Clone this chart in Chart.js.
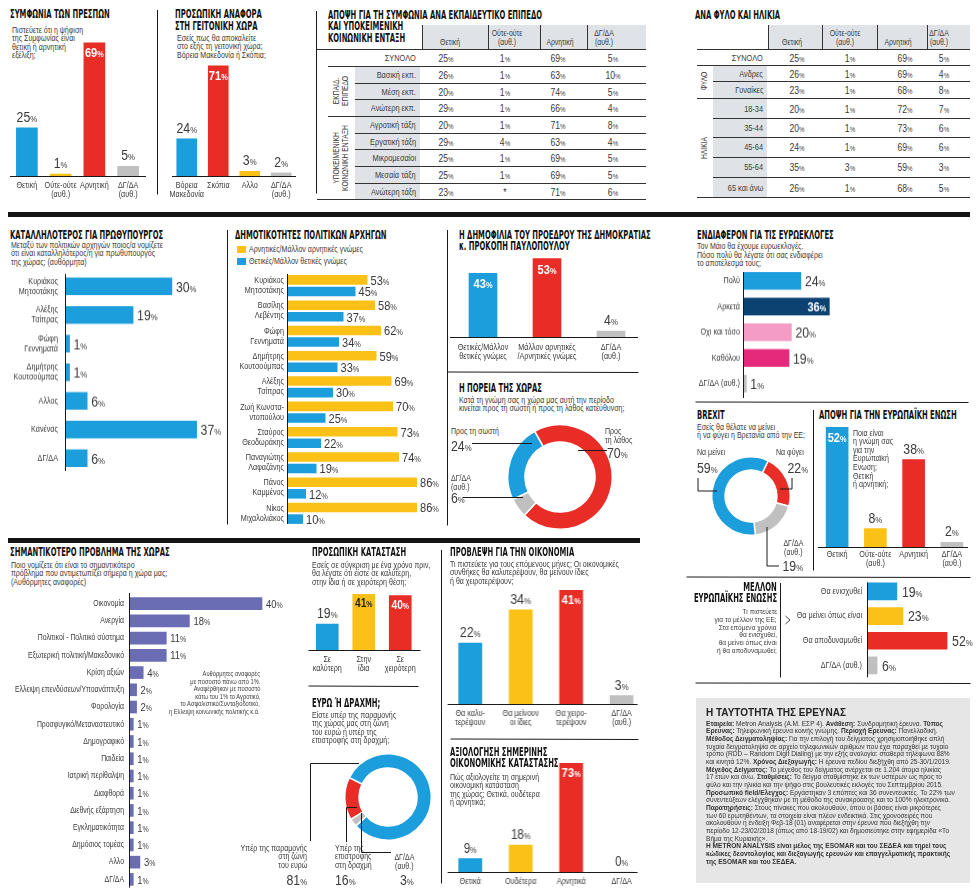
<!DOCTYPE html>
<html lang="el">
<head>
<meta charset="utf-8">
<title>Metron Analysis - Δημοσκόπηση</title>
<script src="https://cdn.jsdelivr.net/npm/chart.js@4.4.1/dist/chart.umd.min.js"></script>
<style>
html, body { margin: 0; padding: 0; background: #fff; }
#page {
    position: relative; width: 977px; height: 893px; overflow: hidden; background: #fff;
    font-family: "Liberation Sans", Arial, sans-serif; color: #3a3a3a; text-align: left;
}
.box { position: absolute; }
.t { position: absolute; white-space: nowrap; text-align: left; transform: scaleX(0.82); transform-origin: 0 0; }
.t.r { transform-origin: 100% 0; text-align: right; }
.ttl { font-family: "DejaVu Sans Condensed", "DejaVu Sans", sans-serif; font-weight: bold; font-size: 11.5px; line-height: 11.5px; color: #111; transform: scaleX(0.66); }
.sub { font-size: 8.6px; line-height: 8.6px; }
.small { font-size: 8px; line-height: 7.8px; }
.note { font-size: 7px; line-height: 7.6px; }
.big { font-size: 15px; line-height: 15px; color: #3a3a3a; }
.big small { font-size: 9.5px; }
.cell { position: absolute; font-size: 10.5px; text-align: center; transform: translate(-50%, -50%) scaleX(0.82); white-space: nowrap; }
.cell small { font-size: 7.5px; }
.hdr { position: absolute; font-size: 8.4px; line-height: 9px; text-align: center; transform: translateX(-50%) scaleX(0.82); white-space: nowrap; }
.rowlab { position: absolute; font-size: 9px; text-align: right; transform: translateY(-50%) scaleX(0.82); transform-origin: 100% 50%; white-space: nowrap; }
.grp { position: absolute; font-size: 8.2px; line-height: 8.6px; text-align: center; white-space: nowrap; transform: translate(-50%, -50%) rotate(-90deg) scaleX(0.82); }
.fill { position: absolute; }
#survey { position: absolute; left: 696px; top: 698px; width: 274px; height: 185px; background: #e6e6e6; }
#survey .head { position: absolute; left: 10px; top: 8.5px; font-weight: bold; font-size: 10px; color: #222; white-space: nowrap; }
#survey .body { position: absolute; left: 10px; top: 21.5px; font-size: 7.3px; line-height: 7.67px; color: #333; white-space: nowrap; transform: scaleX(0.9); transform-origin: 0 0; }
#lines { position: absolute; left: 0; top: 0; pointer-events: none; }
</style>
</head>
<body>
<div id="page"></div>
<script>
// ---- colours
const BLUE = '#1c9ddc';
const RED = '#e82d26';
const YELLOW = '#fcc117';
const GRAY = '#c0c0c0';
const PURPLE = '#6a6db4';
const NAVY = '#0b4271';
const PINK = '#f49cc5';
const MAGENTA = '#e5297b';
const TEXT = '#3a3a3a';
const FONT = '"Liberation Sans", Arial, sans-serif';
const SX = 0.82; // narrow look for the body font

// ---- data
// Συμφωνία των Πρεσπών
const prespesLabels = [['Θετική'], ['Ούτε-ούτε', '(αυθ.)'], ['Αρνητική'], ['ΔΓ/ΔΑ', '(αυθ.)']];
const prespesValues = [25, 1, 69, 5];

// Αναφορά στη γειτονική χώρα
const nameLabels = [['Βόρεια', 'Μακεδονία'], ['Σκόπια'], ['Αλλο'], ['ΔΓ/ΔΑ', '(αυθ.)']];
const nameValues = [24, 71, 3, 2];

// Πίνακες
const tableCols = ['\nΘετική', 'Ούτε-ούτε\n(αυθ.)', '\nΑρνητική', 'ΔΓ/ΔΑ\n(αυθ.)'];
const eduRows = ['ΣΥΝΟΛΟ', 'Βασική εκπ.', 'Μέση εκπ.', 'Ανώτερη εκπ.', 'Αγροτική τάξη', 'Εργατική τάξη', 'Μικρομεσαίοι', 'Μεσαία τάξη', 'Ανώτερη τάξη'];
const eduPositive = [25, 26, 20, 29, 20, 29, 25, 25, 23];
const eduNeutral = [1, 1, 1, 1, 1, 4, 1, 1, null];
const eduNegative = [69, 63, 74, 66, 71, 63, 69, 69, 71];
const eduDkna = [5, 10, 5, 4, 8, 4, 5, 5, 6];
const sexAgeRows = ['ΣΥΝΟΛΟ', 'Ανδρες', 'Γυναίκες', '18-34', '35-44', '45-64', '55-64', '65 και άνω'];
const sexAgePositive = [25, 26, 23, 20, 20, 24, 35, 26];
const sexAgeNeutral = [1, 1, 1, 1, 1, 1, 3, 1];
const sexAgeNegative = [69, 69, 68, 72, 73, 69, 59, 68];
const sexAgeDkna = [5, 4, 8, 7, 6, 6, 3, 5];

// Καταλληλότερος για πρωθυπουργός
const pmLabels = [['Κυριάκος', 'Μητσοτάκης'], ['Αλέξης', 'Τσίπρας'], ['Φώφη', 'Γεννηματά'], ['Δημήτρης', 'Κουτσούμπας'], ['Αλλος'], ['Κανένας'], ['ΔΓ/ΔΑ']];
const pmValues = [30, 19, 1, 1, 6, 37, 6];

// Δημοτικότητες πολιτικών αρχηγών
const leaderLabels = [['Κυριάκος', 'Μητσοτάκης'], ['Βασίλης', 'Λεβέντης'], ['Φώφη', 'Γεννηματά'], ['Δημήτρης', 'Κουτσούμπας'], ['Αλέξης', 'Τσίπρας'], ['Ζωή Κωνστα-', 'ντοπούλου'], ['Σταύρος', 'Θεοδωράκης'], ['Παναγιώτης', 'Λαφαζάνης'], ['Πάνος', 'Καμμένος'], ['Νίκος', 'Μιχαλολιάκος']];
const leaderNegative = [53, 58, 62, 59, 69, 70, 73, 74, 86, 86];
const leaderPositive = [45, 37, 34, 33, 30, 25, 22, 19, 12, 10];
const leaderLegend = ['Αρνητικές/Μάλλον αρνητικές γνώμες', 'Θετικές/Μάλλον θετικές γνώμες'];

// Δημοφιλία του Προέδρου
const presLabels = [['Θετικές/Μάλλον', 'θετικές γνώμες'], ['Μάλλον αρνητικές', '/Αρνητικές γνώμες'], ['ΔΓ/ΔΑ', '(αυθ.)']];
const presValues = [43, 53, 4];

// Πορεία της χώρας: λάθος, ΔΓ/ΔΑ, σωστή
const courseValues = [70, 6, 24];

// Ενδιαφέρον για τις ευρωεκλογές
const euroElLabels = ['Πολύ', 'Αρκετά', 'Οχι και τόσο', 'Καθόλου', 'ΔΓ/ΔΑ (αυθ.)'];
const euroElValues = [24, 36, 20, 19, 1];

// Brexit: να φύγει, ΔΓ/ΔΑ, να μείνει
const brexitValues = [22, 19, 59];

// Άποψη για την ΕΕ
const euLabels = [['Θετική'], ['Ούτε-ούτε', '(αυθ.)'], ['Αρνητική'], ['ΔΓ/ΔΑ', '(αυθ.)']];
const euValues = [52, 8, 38, 2];

// Σημαντικότερο πρόβλημα
const problemLabels = ['Οικονομία', 'Ανεργία', 'Πολιτικοί - Πολιτικό σύστημα', 'Εξωτερική πολιτική/Μακεδονικό', 'Κρίση αξιών', 'Ελλειψη επενδύσεων/Υποανάπτυξη', 'Φορολογία', 'Προσφυγικό/Μεταναστευτικό', 'Δημογραφικό', 'Παιδεία', 'Ιατρική περίθαλψη', 'Διαφθορά', 'Διεθνής εξάρτηση', 'Εγκληματικότητα', 'Δημόσιος τομέας', 'Αλλο', 'ΔΓ/ΔΑ'];
const problemValues = [40, 18, 11, 11, 4, 2, 2, 1, 1, 1, 1, 1, 1, 1, 1, 3, 1];

// Προσωπική κατάσταση
const personalLabels = [['Σε', 'καλύτερη'], ['Στην', 'ίδια'], ['Σε', 'χειρότερη']];
const personalValues = [19, 41, 40];

// Ευρώ ή δραχμή: δραχμή, ευρώ, ΔΓ/ΔΑ
const euroValues = [16, 81, 3];

// Πρόβλεψη για την οικονομία
const forecastLabels = [['Θα καλυ-', 'τερέψουν'], ['Θα μείνουν', 'οι ίδιες'], ['Θα χειρο-', 'τερέψουν'], ['ΔΓ/ΔΑ', '(αυθ.)']];
const forecastValues = [22, 34, 41, 3];

// Αξιολόγηση σημερινής οικονομικής κατάστασης
const ratingLabels = ['Θετικά', 'Ουδέτερα', 'Αρνητικά', 'ΔΓ/ΔΑ'];
const ratingValues = [9, 18, 73, 0];

// Μέλλον ΕΕ
const futureLabels = ['Θα ενισχυθεί', 'Θα μείνει όπως είναι', 'Θα αποδυναμωθεί', 'ΔΓ/ΔΑ (αυθ.)'];
const futureValues = [19, 23, 52, 6];

Chart.defaults.animation = false;
const page = document.getElementById('page');

// ---- helpers
function pct(v) {
    return v + '<small>%</small>';
}

const LINE_H = { ttl: 11.5, sub: 8.6, small: 7.8, note: 7.6, big: 15 };

// one div per line, so every line keeps the same left (or right) edge
function T(x, y, text, cls, align) {
    text.split('\n').forEach((line, k) => {
        const d = document.createElement('div');
        d.className = 't ' + cls + (align === 'right' ? ' r' : '');
        d.innerHTML = line;
        d.style.top = (y + k * LINE_H[cls]) + 'px';
        if (align === 'right') d.style.right = (977 - x) + 'px';
        else d.style.left = x + 'px';
        page.appendChild(d);
    });
}

function rect(x, y, w, h, color) {
    const d = document.createElement('div');
    d.className = 'fill';
    d.style.cssText = `left:${x}px;top:${y}px;width:${w}px;height:${h}px;background:${color}`;
    page.appendChild(d);
}

function addBox(x, y, w, h) {
    const box = document.createElement('div');
    box.className = 'box';
    box.style.cssText = `left:${x}px;top:${y}px;width:${w}px;height:${h}px`;
    const cv = document.createElement('canvas');
    box.appendChild(cv);
    page.appendChild(box);
    return cv;
}

// text squeezed horizontally around its anchor
function fillN(ctx, s, x, y) {
    ctx.save();
    ctx.translate(x, y);
    ctx.scale(SX, 1);
    ctx.fillText(s, 0, 0);
    ctx.restore();
}

function drawPct(ctx, v, x, y, align, f1, f2, color) {
    const s = String(v);
    ctx.font = f1;
    const w1 = ctx.measureText(s).width * SX;
    ctx.font = f2;
    const w2 = ctx.measureText('%').width * SX;
    let x0 = x;
    if (align === 'center') x0 = x - (w1 + w2) / 2;
    if (align === 'right') x0 = x - w1 - w2;
    ctx.textAlign = 'left';
    ctx.textBaseline = 'alphabetic';
    ctx.fillStyle = color;
    ctx.font = f1;
    fillN(ctx, s, x0, y);
    ctx.font = f2;
    fillN(ctx, '%', x0 + w1, y);
}

// axis line, category labels and value labels
const marks = {
    id: 'marks',
    afterDatasetsDraw(chart, args, m) {
        const ctx = chart.ctx;
        const a = chart.chartArea;
        const horiz = chart.options.indexAxis === 'y';
        ctx.save();
        ctx.strokeStyle = '#1a1a1a';
        ctx.lineWidth = 1;
        ctx.beginPath();
        if (horiz) {
            const x = Math.round(a.left) - 0.5;
            ctx.moveTo(x, m.axis ? m.axis[0] - m.boxTop : a.top);
            ctx.lineTo(x, m.axis ? m.axis[1] - m.boxTop : a.bottom);
        } else {
            const y = Math.round(a.bottom) + 0.5;
            ctx.moveTo(m.axis ? m.axis[0] - m.boxLeft : a.left, y);
            ctx.lineTo(m.axis ? m.axis[1] - m.boxLeft : a.right, y);
        }
        ctx.stroke();

        ctx.fillStyle = TEXT;
        ctx.font = m.catSize + 'px ' + FONT;
        chart.data.labels.forEach((lab, i) => {
            const lines = [].concat(lab);
            if (horiz) {
                const yc = chart.scales.y.getPixelForValue(i);
                ctx.textAlign = 'right';
                ctx.textBaseline = 'middle';
                lines.forEach((s, k) => fillN(ctx, s, a.left - m.catGap, yc + (k - (lines.length - 1) / 2) * m.catLH));
            } else {
                const xc = chart.scales.x.getPixelForValue(i);
                ctx.textAlign = 'center';
                ctx.textBaseline = 'top';
                lines.forEach((s, k) => fillN(ctx, s, xc, a.bottom + m.catGap + k * m.catLH));
            }
        });

        const f1 = m.big + 'px ' + FONT, f2 = m.small + 'px ' + FONT;
        const b1 = 'bold ' + m.inBig + 'px ' + FONT, b2 = 'bold ' + m.inSmall + 'px ' + FONT;
        chart.data.datasets.forEach((ds, d) => {
            chart.getDatasetMeta(d).data.forEach((bar, i) => {
                const v = ds.data[i];
                const ins = d === 0 && m.inside ? m.inside[i] : null;
                if (horiz) {
                    if (ins) drawPct(ctx, v, bar.x - 3, bar.y + m.inBig * 0.36, 'right', b1, b2, ins);
                    else drawPct(ctx, v, bar.x + m.valGap, bar.y + m.big * 0.36, 'left', f1, f2, TEXT);
                } else {
                    if (ins) drawPct(ctx, v, bar.x, bar.y + m.inTop, 'center', b1, b2, ins);
                    else drawPct(ctx, v, bar.x, bar.y - m.valGap, 'center', f1, f2, TEXT);
                }
            });
        });
        ctx.restore();
    }
};

function bars(o) {
    const p = Object.assign({ l: 4, r: 4, t: 4, b: 4 }, o.pad);
    const left = o.x - p.l, top = o.y - p.t;
    const cv = addBox(left, top, o.w + p.l + p.r, o.h + p.t + p.b);
    const horiz = !!o.horizontal;
    const datasets = o.series.map(s => ({
        data: s.values,
        backgroundColor: s.colors,
        borderWidth: 0,
        barThickness: o.thickness,
        categoryPercentage: o.catPct || 0.8,
        barPercentage: o.barPct || 0.9
    }));
    const valueAxis = { display: false, min: 0, max: o.max };
    const catAxis = { display: false, offset: true };
    const m = Object.assign({
        catSize: 8.8, catGap: 4, catLH: 9.5, big: 15, small: 9.5, inBig: 13.5, inSmall: 9,
        inTop: 14, valGap: 5, boxLeft: left, boxTop: top
    }, o.marks);
    return new Chart(cv, {
        type: 'bar',
        data: { labels: o.labels, datasets },
        options: {
            indexAxis: horiz ? 'y' : 'x',
            responsive: true,
            maintainAspectRatio: false,
            animation: false,
            layout: { padding: { left: p.l, right: p.r, top: p.t, bottom: p.b } },
            scales: horiz ? { x: valueAxis, y: catAxis } : { x: catAxis, y: valueAxis },
            plugins: { legend: { display: false }, tooltip: { enabled: false }, marks: m }
        },
        plugins: [marks]
    });
}

function donut(o) {
    const s = o.r * 2 + 2;
    const cv = addBox(o.cx - s / 2, o.cy - s / 2, s, s);
    return new Chart(cv, {
        type: 'doughnut',
        data: { datasets: [{ data: o.values, backgroundColor: o.colors, borderColor: '#fff', borderWidth: 1.5 }] },
        options: {
            responsive: true,
            maintainAspectRatio: false,
            animation: false,
            cutout: o.cutout,
            rotation: o.rotation,
            layout: { padding: 0 },
            plugins: { legend: { display: false }, tooltip: { enabled: false } }
        }
    });
}

function table(o) {
    // header
    o.cols.forEach((c, i) => {
        const x0 = o.edges[i], x1 = o.edges[i + 1];
        rect(x0, o.hdrTop, x1 - x0, o.rows[0] - o.hdrTop, '#dfe3e8');
        rect(x0, o.hdrTop, 1, o.rows[0] - o.hdrTop, '#333');
        const h = document.createElement('div');
        h.className = 'hdr';
        h.innerHTML = c.split('\n').join('<br>');
        h.style.left = o.hdrCenters[i] + 'px';
        h.style.top = (o.hdrTop + 4) + 'px';
        page.appendChild(h);
    });
    const right = o.edges[o.edges.length - 1];
    // label cells
    for (let r = 1; r < o.labels.length; r++) {
        rect(o.labL, o.rows[r], o.labR - o.labL, o.rows[r + 1] - o.rows[r], '#dfe3e8');
    }
    // row lines
    o.rows.forEach((y, r) => {
        let x0 = o.labL;
        if (r === 0 || r === o.rows.length - 1) x0 = o.lineStart;
        else if (o.groups.some(g => g.from === r)) x0 = o.x0;
        rect(x0, Math.round(y), right - x0, 1, '#333');
    });
    // groups
    o.groups.forEach(g => {
        const d = document.createElement('div');
        d.className = 'grp';
        d.innerHTML = g.name.split('\n').join('<br>');
        d.style.left = ((o.x0 + o.labL) / 2) + 'px';
        d.style.top = ((o.rows[g.from] + o.rows[g.to + 1]) / 2) + 'px';
        page.appendChild(d);
    });
    // row labels and cells
    o.labels.forEach((lab, r) => {
        const yc = (o.rows[r] + o.rows[r + 1]) / 2 + 0.5;
        const l = document.createElement('div');
        l.className = 'rowlab';
        l.textContent = lab;
        l.style.right = (977 - o.labR + 4) + 'px';
        l.style.top = yc + 'px';
        page.appendChild(l);
        o.data.forEach((col, c) => {
            const d = document.createElement('div');
            d.className = 'cell';
            d.innerHTML = col[r] === null ? '*' : pct(col[r]);
            d.style.left = o.centers[c] + 'px';
            d.style.top = yc + 'px';
            page.appendChild(d);
        });
    });
}

// ---- black bands
rect(8, 212, 962, 5, '#141414');
rect(8, 538, 632, 5, '#141414');

// ---- row 1
T(10, 9, 'ΣΥΜΦΩΝΙΑ ΤΩΝ ΠΡΕΣΠΩΝ', 'ttl');
T(12, 25.5, 'Πιστεύετε ότι η ψήφιση\nτης Συμφωνίας είναι\nθετική ή αρνητική\nεξέλιξη;', 'sub');
bars({
    x: 10, y: 40, w: 135, h: 136, max: 136 / 1.93, thickness: 21, pad: { l: 6, r: 6, t: 30, b: 28 },
    labels: prespesLabels, series: [{ values: prespesValues, colors: [BLUE, YELLOW, RED, GRAY] }],
    marks: { inside: { 2: '#fff' }, catGap: 5, catLH: 9.5, valGap: 6, axis: [10, 146] }
});

T(175, 9, 'ΠΡΟΣΩΠΙΚΗ ΑΝΑΦΟΡΑ\nΣΤΗ ΓΕΙΤΟΝΙΚΗ ΧΩΡΑ', 'ttl');
T(177, 33.5, 'Εσείς πως θα αποκαλείτε\nστο εξής τη γειτονική χώρα;\nΒόρεια Μακεδονία ή Σκόπια;', 'sub');
bars({
    x: 171, y: 40, w: 126, h: 136, max: 136 / 1.55, thickness: 20, pad: { l: 8, r: 8, t: 30, b: 28 },
    labels: nameLabels, series: [{ values: nameValues, colors: [BLUE, RED, YELLOW, GRAY] }],
    marks: { inside: { 1: '#fff' }, catGap: 5, catLH: 9.5, valGap: 6, axis: [172, 296] }
});

T(328, 9.5, 'ΑΠΟΨΗ ΓΙΑ ΤΗ ΣΥΜΦΩΝΙΑ ΑΝΑ ΕΚΠΑΙΔΕΥΤΙΚΟ ΕΠΙΠΕΔΟ\nΚΑΙ ΥΠΟΚΕΙΜΕΝΙΚΗ\nΚΟΙΝΩΝΙΚΗ ΕΝΤΑΞΗ', 'ttl');
table({
    x0: 328, lineStart: 317, labL: 355, labR: 420, hdrTop: 25,
    edges: [422, 488, 540, 587, 646], centers: [446, 505, 558, 613], hdrCenters: [450, 507, 560, 604],
    rows: [49.3, 66, 82.7, 99.3, 116, 132.7, 149.3, 166, 182.7, 199.3],
    cols: tableCols, labels: eduRows, data: [eduPositive, eduNeutral, eduNegative, eduDkna],
    groups: [{ name: 'ΕΚΠΑΙΔ.\nΕΠΙΠΕΔΟ', from: 1, to: 3 }, { name: 'ΥΠΟΚΕΙΜΕΝΙΚΗ\nΚΟΙΝΩΝΙΚΗ ΕΝΤΑΞΗ', from: 4, to: 8 }]
});

T(695, 9.5, 'ΑΝΑ ΦΥΛΟ ΚΑΙ ΗΛΙΚΙΑ', 'ttl');
table({
    x0: 697, lineStart: 697, labL: 713, labR: 767, hdrTop: 25,
    edges: [768, 822, 877, 927, 970], centers: [797, 850, 905, 944], hdrCenters: [792, 845, 898, 939],
    rows: [49.3, 65, 81, 97.7, 118.3, 136.7, 156.7, 176.7, 197.3],
    cols: tableCols, labels: sexAgeRows, data: [sexAgePositive, sexAgeNeutral, sexAgeNegative, sexAgeDkna],
    groups: [{ name: 'ΦΥΛΟ', from: 1, to: 2 }, { name: 'ΗΛΙΚΙΑ', from: 3, to: 7 }]
});

// ---- row 2
T(10, 229.5, 'ΚΑΤΑΛΛΗΛΟΤΕΡΟΣ ΓΙΑ ΠΡΩΘΥΠΟΥΡΓΟΣ', 'ttl');
T(11, 240.8, 'Μεταξύ των πολιτικών αρχηγών ποιος/α νομίζετε\nότι είναι καταλληλότερος/η για πρωθυπουργός\nτης χώρας; (αυθόρμητα)', 'sub');
bars({
    horizontal: true, x: 66, y: 272, w: 160, h: 199.5, max: 160 / 3.53, thickness: 17,
    pad: { l: 64, r: 4, t: 2, b: 2 },
    labels: pmLabels, series: [{ values: pmValues, colors: BLUE }],
    marks: { catGap: 8, catLH: 10, valGap: 4, axis: [274, 470] }
});

T(235, 229.5, 'ΔΗΜΟΤΙΚΟΤΗΤΕΣ ΠΟΛΙΤΙΚΩΝ ΑΡΧΗΓΩΝ', 'ttl');
rect(237, 246, 9, 7, YELLOW);
T(249, 245, leaderLegend[0], 'sub');
rect(237, 258, 9, 7, BLUE);
T(249, 257, leaderLegend[1], 'sub');
bars({
    horizontal: true, x: 288, y: 273, w: 145, h: 253, max: 145 / 1.5, catPct: 0.91, barPct: 0.83,
    pad: { l: 62, r: 10, t: 2, b: 2 },
    labels: leaderLabels,
    series: [{ values: leaderNegative, colors: YELLOW }, { values: leaderPositive, colors: BLUE }],
    marks: { catGap: 4, catLH: 10, big: 13.5, small: 9, valGap: 3, axis: [274, 524] }
});

T(459, 229.5, 'Η ΔΗΜΟΦΙΛΙΑ ΤΟΥ ΠΡΟΕΔΡΟΥ ΤΗΣ ΔΗΜΟΚΡΑΤΙΑΣ\nκ. ΠΡΟΚΟΠΗ ΠΑΥΛΟΠΟΥΛΟΥ', 'ttl');
bars({
    x: 451, y: 252, w: 192, h: 85, max: 85 / 1.48, thickness: 28, pad: { l: 4, r: 4, t: 4, b: 28 },
    labels: presLabels, series: [{ values: presValues, colors: [BLUE, RED, GRAY] }],
    marks: { inside: { 0: '#fff', 1: '#fff' }, inTop: 15, catGap: 6, catLH: 9.5, valGap: 6, axis: [450, 638] }
});

T(459, 382.5, 'Η ΠΟΡΕΙΑ ΤΗΣ ΧΩΡΑΣ', 'ttl');
T(459, 395.5, 'Κατά τη γνώμη σας η χώρα μας αυτή την περίοδο\nκινείται προς τη σωστή ή προς τη λάθος κατεύθυνση;', 'sub');
donut({ cx: 560, cy: 477, r: 52, cutout: '67%', rotation: -29, values: courseValues, colors: [RED, GRAY, BLUE] });
T(451, 427, 'Προς τη σωστή', 'sub');
T(451, 437.5, pct(courseValues[2]), 'big');
T(605, 427, 'Προς\nτη λάθος', 'sub');
T(607, 444.5, pct(courseValues[0]), 'big');
T(451, 474, 'ΔΓ/ΔΑ\n(αυθ.)', 'sub');
T(451, 490, pct(courseValues[1]), 'big');

T(697, 229.5, 'ΕΝΔΙΑΦΕΡΟΝ ΓΙΑ ΤΙΣ ΕΥΡΩΕΚΛΟΓΕΣ', 'ttl');
T(697, 242, 'Τον Μάιο θα έχουμε ευρωεκλογές.\nΠόσο πολύ θα λέγατε ότι σας ενδιαφέρει\nτο αποτέλεσμά τους;', 'sub');
bars({
    horizontal: true, x: 744, y: 268, w: 110, h: 127.5, max: 110 / 2.37, thickness: 17,
    pad: { l: 54, r: 30, t: 2, b: 2 },
    labels: euroElLabels, series: [{ values: euroElValues, colors: [BLUE, NAVY, PINK, MAGENTA, GRAY] }],
    marks: { inside: { 1: '#fff' }, catGap: 4, valGap: 4, axis: [272, 397] }
});

T(697, 409.5, 'BREXIT', 'ttl');
T(697, 422.5, 'Εσείς θα θέλατε να μείνει\nή να φύγει η Βρετανία από την ΕΕ;', 'sub');
donut({ cx: 751, cy: 496, r: 39, cutout: '66%', rotation: 26, values: brexitValues, colors: [RED, GRAY, BLUE] });
T(697, 448, 'Να μείνει', 'sub');
T(697, 459.5, pct(brexitValues[2]), 'big');
T(776, 448, 'Να φύγει', 'sub');
T(808, 459.5, pct(brexitValues[0]), 'big', 'right');
T(803, 539, 'ΔΓ/ΔΑ\n(αυθ.)', 'sub', 'right');
T(803, 557.5, pct(brexitValues[1]), 'big', 'right');

T(819, 409.5, 'ΑΠΟΨΗ ΓΙΑ ΤΗΝ ΕΥΡΩΠΑΪΚΗ ΕΝΩΣΗ', 'ttl');
bars({
    x: 818, y: 425, w: 153, h: 122, max: 122 / 2.3, thickness: 22, pad: { l: 4, r: 4, t: 4, b: 24 },
    labels: euLabels, series: [{ values: euValues, colors: [BLUE, YELLOW, RED, GRAY] }],
    marks: { inside: { 0: '#fff' }, inTop: 15, catGap: 3, catLH: 9.5, valGap: 6, axis: [818, 968] }
});
T(853, 428.5, 'Ποια είναι\nη γνώμη σας\nγια την\nΕυρωπαϊκή\nΕνωση;\nΘετική\nή αρνητική;', 'sub');

// ---- row 3
T(10, 547, 'ΣΗΜΑΝΤΙΚΟΤΕΡΟ ΠΡΟΒΛΗΜΑ ΤΗΣ ΧΩΡΑΣ', 'ttl');
T(11, 560.5, 'Ποιο νομίζετε ότι είναι το σημαντικότερο\nπρόβλημα που αντιμετωπίζει σήμερα η χώρα μας;\n(Αυθόρμητες αναφορές)', 'sub');
bars({
    horizontal: true, x: 130, y: 595.4, w: 150, h: 293, max: 150 / 3.3, thickness: 12,
    pad: { l: 125, r: 10, t: 2, b: 2 },
    labels: problemLabels, series: [{ values: problemValues, colors: PURPLE }],
    marks: { catSize: 8.4, catGap: 6, big: 11.5, small: 8.5, valGap: 4, axis: [590, 888] }
});
T(260, 670, 'Αυθόρμητες αναφορές\nμε ποσοστό πάνω από 1%.\nΑναφέρθηκαν με ποσοστό\nκάτω του 1% το Αγροτικό,\nτο Ασφαλιστικό/Συνταξιοδοτικό,\nη Ελλειψη κοινωνικής πολιτικής κ.ά.', 'note', 'right');

T(312, 547, 'ΠΡΟΣΩΠΙΚΗ ΚΑΤΑΣΤΑΣΗ', 'ttl');
T(312, 560.5, 'Εσείς σε σύγκριση με ένα χρόνο πριν,\nθα λέγατε ότι είστε σε καλύτερη,\nστην ίδια ή σε χειρότερη θέση;', 'sub');
bars({
    x: 308.5, y: 590, w: 109.5, h: 60, max: 60 / 1.36, thickness: 22, pad: { l: 4, r: 4, t: 22, b: 26 },
    labels: personalLabels, series: [{ values: personalValues, colors: [BLUE, YELLOW, RED] }],
    marks: { inside: { 1: '#222', 2: '#fff' }, inBig: 12.5, inSmall: 8.5, inTop: 13, catGap: 5, catLH: 9, valGap: 6, axis: [308, 420] }
});

T(312, 697.5, 'ΕΥΡΩ Ή ΔΡΑΧΜΗ;', 'ttl');
T(312, 710.5, 'Είστε υπέρ της παραμονής\nτης χώρας μας στη ζώνη\nτου ευρώ ή υπέρ της\nεπιστροφής στη δραχμή;', 'sub');
donut({ cx: 388, cy: 797, r: 43, cutout: '67%', rotation: 239, values: euroValues, colors: [RED, BLUE, GRAY] });
T(307, 843.5, 'Υπέρ της παραμονής\nστη ζώνη\nτου ευρώ', 'sub', 'right');
T(307, 871.5, pct(euroValues[1]), 'big', 'right');
T(335, 843.5, 'Υπέρ της\nεπιστροφής\nστη δραχμή', 'sub');
T(335, 871.5, pct(euroValues[0]), 'big');
T(414, 853, 'ΔΓ/ΔΑ\n(αυθ.)', 'sub', 'right');
T(414, 871.5, pct(euroValues[2]), 'big', 'right');

T(450, 547, 'ΠΡΟΒΛΕΨΗ ΓΙΑ ΤΗΝ ΟΙΚΟΝΟΜΙΑ', 'ttl');
T(450, 559.5, 'Τι πιστεύετε για τους επόμενους μήνες; Οι οικονομικές\nσυνθήκες θα καλυτερέψουν, θα μείνουν ίδιες\nή θα χειροτερέψουν;', 'sub');
bars({
    x: 445.4, y: 586, w: 200.8, h: 118, max: 118 / 2.77, thickness: 23, pad: { l: 4, r: 4, t: 4, b: 28 },
    labels: forecastLabels, series: [{ values: forecastValues, colors: [BLUE, YELLOW, RED, GRAY] }],
    marks: { inside: { 2: '#fff' }, catGap: 5, catLH: 9.5, valGap: 6, axis: [448, 637] }
});

T(450, 746.5, 'ΑΞΙΟΛΟΓΗΣΗ ΣΗΜΕΡΙΝΗΣ\nΟΙΚΟΝΟΜΙΚΗΣ ΚΑΤΑΣΤΑΣΗΣ', 'ttl');
T(450, 772.5, 'Πώς αξιολογείτε τη σημερινή\nοικονομική κατάσταση\nτης χώρας; Θετικά, ουδέτερα\nή αρνητικά;', 'sub');
bars({
    x: 445.4, y: 755, w: 200.8, h: 117, max: 117 / 1.49, thickness: 23, pad: { l: 4, r: 4, t: 4, b: 18 },
    labels: ratingLabels, series: [{ values: ratingValues, colors: [BLUE, YELLOW, RED, GRAY] }],
    marks: { inside: { 2: '#fff' }, catGap: 5, catLH: 9.5, big: 14, small: 9, valGap: 6, axis: [448, 637] }
});

T(777, 581.5, 'ΜΕΛΛΟΝ\nΕΥΡΩΠΑΪΚΗΣ ΕΝΩΣΗΣ', 'ttl', 'right');
T(777, 608, 'Τι πιστεύετε\nγια το μέλλον της ΕΕ;\nΣτα επόμενα χρόνια\nθα ενισχυθεί,\nθα μείνει όπως είναι\nή θα αποδυναμωθεί;', 'small', 'right');
bars({
    horizontal: true, x: 868, y: 578.6, w: 100, h: 98.8, max: 100 / 1.52, thickness: 17,
    pad: { l: 80, r: 8, t: 2, b: 2 },
    labels: futureLabels, series: [{ values: futureValues, colors: [BLUE, YELLOW, RED, GRAY] }],
    marks: { catGap: 6, valGap: 5, axis: [582, 677] }
});

// ---- survey identity box
const survey = document.createElement('div');
survey.id = 'survey';
survey.innerHTML = '<div class="head">Η ΤΑΥΤΟΤΗΤΑ ΤΗΣ ΕΡΕΥΝΑΣ</div><div class="body">' + [
    '<b>Εταιρεία:</b> Metron Analysis (Α.Μ. ΕΣΡ 4). <b>Ανάθεση:</b> Συνδρομητική έρευνα. <b>Τύπος</b>',
    '<b>Ερευνας:</b> Τηλεφωνική έρευνα κοινής γνώμης. <b>Περιοχή Ερευνας:</b> Πανελλαδική.',
    '<b>Μέθοδος Δειγματοληψίας:</b> Για την επιλογή του δείγματος χρησιμοποιήθηκε απλή',
    'τυχαία δειγματοληψία σε αρχείο τηλεφωνικών αριθμών που έχει παραχθεί με τυχαίο',
    'τρόπο (RDD – Random Digit Dialing) με την εξής αναλογία: σταθερά τηλέφωνα 88%',
    'και κινητά 12%. <b>Χρόνος Διεξαγωγής:</b> Η έρευνα πεδίου διεξήχθη από 25-30/1/2019.',
    '<b>Μέγεθος Δείγματος:</b> Το μέγεθος του δείγματος ανέρχεται σε 1.204 άτομα ηλικίας',
    '17 ετών και άνω. <b>Σταθμίσεις:</b> Το δείγμα σταθμίστηκε εκ των υστέρων ως προς το',
    'φύλο και την ηλικία και την ψήφο στις βουλευτικές εκλογές του Σεπτεμβρίου 2015.',
    '<b>Προσωπικό field/Ελεγχος:</b> Εργάστηκαν 3 επόπτες και 36 συνεντευκτές. Το 22% των',
    'συνεντεύξεων ελέγχθηκαν με τη μέθοδο της συνακρόασης και το 100% ηλεκτρονικά.',
    '<b>Παρατηρήσεις:</b> Στους πίνακες που ακολουθούν, όπου οι βάσεις είναι μικρότερες',
    'των 60 ερωτηθέντων, τα στοιχεία είναι πλέον ενδεικτικά. Στις χρονοσειρές που',
    'ακολουθούν η ένδειξη Φεβ-18 (01) αναφέρεται στην έρευνα που διεξήχθη την',
    'περίοδο 12-23/02/2018 (όπως από 18-19/02) και δημοσιεύτηκε στην εφημερίδα «Το',
    'Βήμα της Κυριακής».',
    '<b>Η METRON ANALYSIS είναι μέλος της ESOMAR και του ΣΕΔΕΑ και τηρεί τους</b>',
    '<b>κώδικες δεοντολογίας και διεξαγωγής ερευνών και επαγγελματικής πρακτικής</b>',
    '<b>της ESOMAR και του ΣΕΔΕΑ.</b>'
].join('<br>') + '</div>';
page.appendChild(survey);

// ---- divider rules and leader lines
const rules = [
    [157, 10, 157, 194], [316, 11, 316, 193],
    [227, 230, 227, 524], [447, 230, 447, 525], [447, 372, 638, 372],
    [695, 402, 968, 402], [813, 410, 813, 570],
    [441, 550, 441, 883], [308, 686, 418, 686], [450, 739, 638, 739],
    [686, 577, 970, 577], [695, 683, 970, 683], [780, 583, 780, 677]
];
const leaders = [
    '472,443.5 532,443.5', '578,450.5 607,450.5', '463,497.5 523,497.5',
    '698,478 698,491 717,491', '792,478 792,489 780,489', '767,527 767,566 779,566',
    '359,763.5 310.5,763.5 310.5,841', '357,807.5 346.5,807.5 346.5,842', '361.5,813 361.5,852.5 391,852.5'
];
let svg = '<svg id="lines" width="977" height="893" xmlns="http://www.w3.org/2000/svg">';
rules.forEach(r => {
    svg += `<line x1="${r[0] + 0.5}" y1="${r[1]}" x2="${r[2] + 0.5}" y2="${r[3] + 0.5}" stroke="#1a1a1a" stroke-width="1"/>`;
});
leaders.forEach(p => {
    svg += `<polyline points="${p}" fill="none" stroke="#1a1a1a" stroke-width="1"/>`;
});
svg += '<polyline points="785.5,616 790,620 785.5,624" fill="none" stroke="#333" stroke-width="0.9"/>';
svg += '</svg>';
page.insertAdjacentHTML('beforeend', svg);
</script>
</body>
</html>
